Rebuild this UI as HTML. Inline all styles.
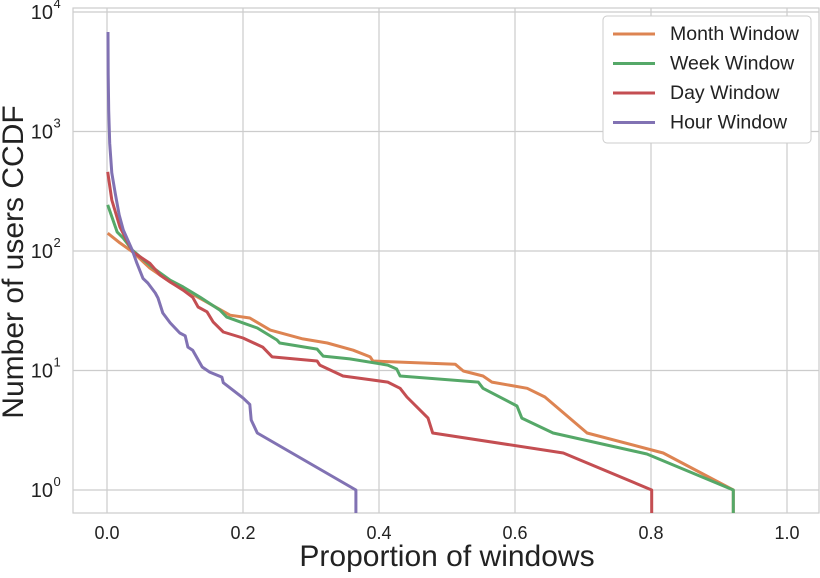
<!DOCTYPE html>
<html><head><meta charset="utf-8"><style>
body{margin:0;background:#fff;}
svg{font-family:"Liberation Sans","DejaVu Sans",sans-serif;}
</style></head><body>
<svg id="chart" width="820" height="573" viewBox="0 0 820 573" xmlns="http://www.w3.org/2000/svg">
<g id="grid"></g>
<rect x="73" y="8" width="746" height="505" fill="none" stroke="#cccccc" stroke-width="1.2"/>
<g id="series"></g>
<g id="ticks"></g>
<text x="447" y="566" font-size="30" text-anchor="middle" fill="#222">Proportion of windows</text>
<text transform="translate(23,262) rotate(-90)" font-size="30" text-anchor="middle" fill="#222">Number of users CCDF</text>
<g>
<rect x="603" y="16" width="208" height="127" rx="4" fill="#fff" stroke="#cccccc"/>
<g id="legend-items"></g>
</g>
</svg>
<script>
const xTicks=[0,0.2,0.4,0.6,0.8,1.0];
const xTickLabels=["0.0","0.2","0.4","0.6","0.8","1.0"];
const yTickExps=[0,1,2,3,4];
const seriesNames=["Month Window","Week Window","Day Window","Hour Window"];
const seriesColors=["#dd8452","#55a868","#c44e52","#8172b3"];
const monthX=[0.001,0.019,0.038,0.063,0.093,0.141,0.181,0.210,0.240,0.288,0.324,0.362,0.387,0.391,0.512,0.524,0.553,0.566,0.618,0.644,0.706,0.818,0.921,0.921];
const monthY=[141,117,98,72,55,39,29,27.5,21.8,18.4,17,14.8,13,12,11.3,9.9,9,8,7.1,6.0,3.0,2.04,1,0.64];
const weekX=[0.001,0.015,0.024,0.037,0.068,0.093,0.112,0.137,0.166,0.176,0.2,0.221,0.25,0.254,0.309,0.318,0.357,0.413,0.426,0.431,0.546,0.553,0.603,0.610,0.656,0.794,0.921,0.921];
const weekY=[243,144,128,102,72,57,50,41,32,28,25,22.7,18,17,15.1,13.2,12.5,11.1,10.3,9,8,7.1,5.05,4.0,3.0,2.0,1.0,0.64];
const dayX=[0.001,0.007,0.019,0.038,0.063,0.078,0.093,0.112,0.126,0.134,0.147,0.156,0.171,0.2,0.229,0.243,0.309,0.313,0.347,0.413,0.431,0.441,0.472,0.479,0.671,0.801,0.801];
const dayY=[459,267,159,98,79,63,55,47,41,34,31,25.5,21,18.7,15.7,13,12,11.1,9,8,7.1,6.0,4.0,3.0,2.04,1.0,0.64];
const hourX=[0.0015,0.0018,0.0025,0.004,0.007,0.012,0.018,0.024,0.037,0.044,0.053,0.060,0.071,0.075,0.082,0.093,0.107,0.115,0.119,0.126,0.140,0.151,0.169,0.171,0.2,0.210,0.212,0.221,0.366,0.366];
const hourY=[6800,3000,1500,800,450,305,200,150,102,79,59,54,44.5,40.4,30.3,25,20.6,19.5,15.7,14.8,10.7,9.7,8.8,7.9,5.9,5.2,3.85,3.0,1.0,0.64];
const allX=[monthX,weekX,dayX,hourX], allY=[monthY,weekY,dayY,hourY];

const NS="http://www.w3.org/2000/svg";
const L=73,R=819,T=8,B=513;
const xs=v=>107+v*680;
const ys=v=>490-119.5*Math.log10(v);
function mk(tag,attrs,parent){const e=document.createElementNS(NS,tag);for(const k in attrs)e.setAttribute(k,attrs[k]);parent.appendChild(e);return e;}
const grid=document.getElementById('grid'),ticks=document.getElementById('ticks');
xTicks.forEach((t,i)=>{
  const g=mk('line',{x1:xs(t),x2:xs(t),y1:T,y2:B,stroke:'#cccccc','stroke-width':1.2},grid);
  
  
  const tx=mk('text',{x:xs(t),y:539,'font-size':18,'text-anchor':'middle',fill:'#222'},ticks);
  tx.textContent=xTickLabels[i];
  
  
});
yTickExps.forEach(e=>{
  const y=ys(Math.pow(10,e));
  const g=mk('line',{x1:L,x2:R,y1:y,y2:y,stroke:'#cccccc','stroke-width':1.2},grid);
  
  
  const tx=mk('text',{x:53,y:y+7,'font-size':20,'text-anchor':'end',fill:'#222'},ticks);
  tx.textContent='10';
  
  
  const sp=mk('text',{x:53.5,y:y-4,'font-size':13,fill:'#222'},ticks);
  sp.textContent=String(e);
  
  
});
const sg=document.getElementById('series');
allX.forEach((xa,i)=>{
  const pts=xa.map((x,j)=>xs(x).toFixed(1)+','+Math.min(B,ys(allY[i][j])).toFixed(1)).join(' ');
  const p=mk('polyline',{points:pts,fill:'none',stroke:seriesColors[i],'stroke-width':3,'stroke-linejoin':'round'},sg);
  
  
});
const lg=document.getElementById('legend-items');
seriesNames.forEach((n,i)=>{
  const y=34+i*29.5;
  const l=mk('line',{x1:613,x2:655,y1:y,y2:y,stroke:seriesColors[i],'stroke-width':3},lg);
  
  
  const t=mk('text',{x:670,y:y+6,'font-size':19.5,fill:'#222'},lg);
  t.textContent=n;
  
  
});
</script>
</body></html>
